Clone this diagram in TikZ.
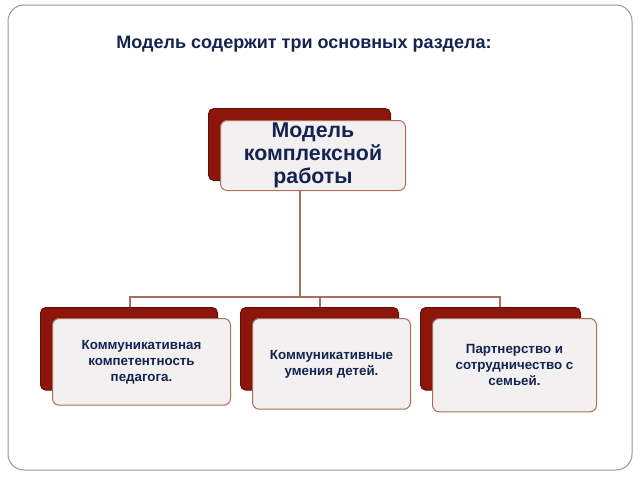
\documentclass[tikz,border=0pt]{standalone}
\usepackage{fontspec}
\setmainfont{Liberation Sans}
\tikzset{every picture/.style={line width=0.75pt}}
\definecolor{backred}{RGB}{140,22,12}
\definecolor{edgebrown}{RGB}{170,110,90}
\definecolor{navy}{RGB}{20,35,80}
\tikzset{
  backbox/.style={draw=backred!70!black,fill=backred,rounded corners=4pt,anchor=north west,inner sep=0pt},
  frontbox/.style={draw=edgebrown,fill={rgb,255:red,242;green,240;blue,240},rounded corners=5pt,anchor=north west,inner sep=0pt,align=center,text=navy,font=\bfseries},
  link/.style={draw=edgebrown,line width=0.9pt}
}
\begin{document}
\begin{tikzpicture}[x=0.75pt,y=0.75pt,yscale=-1,xscale=1]
\useasboundingbox (0,0) rectangle (640,480);
%Slide frame
\draw [color={rgb, 255:red, 150; green, 150; blue, 150 }, rounded corners=12pt] (8,5) rectangle (632,470);
% Title
\node (title) at (304,44) [font=\bfseries\fontsize{13.5}{16}\selectfont, text=navy] {Модель содержит три основных раздела:};

% Top box
\node (tback) at (208,108) [backbox, minimum width=136.5pt, minimum height=54pt] {};
\node (tfront) at (220,120) [frontbox, minimum width=138.75pt, minimum height=52.5pt, font=\bfseries\fontsize{16}{17}\selectfont] {Модель\\комплексной\\работы};

% Bottom boxes
\node (aback) at (40,307) [backbox, minimum width=132.75pt, minimum height=62pt] {};
\node (afront) at (52,318) [frontbox, minimum width=133.5pt, minimum height=65pt, font=\bfseries\fontsize{10}{12}\selectfont] {Коммуникативная\\компетентность\\педагога.};
\node (bback) at (240,307) [backbox, minimum width=118.5pt, minimum height=62pt] {};
\node (bfront) at (252,318) [frontbox, minimum width=118.5pt, minimum height=68pt, font=\bfseries\fontsize{10}{12}\selectfont] {Коммуникативные\\умения детей.};
\node (cback) at (420,307) [backbox, minimum width=120pt, minimum height=62pt] {};
\node (cfront) at (432,318) [frontbox, minimum width=123pt, minimum height=70pt, font=\bfseries\fontsize{10}{12}\selectfont] {Партнерство и\\сотрудничество с\\семьей.};

% Connectors
\coordinate (hub) at (300,297);
\draw [link] (tfront.south -| hub) -- (hub);
\draw [link] (aback.north -| 130,0) |- (hub);
\draw [link] (bback.north -| 320,0) -- (320,297);
\draw [link] (cback.north -| 500,0) |- (hub);
\end{tikzpicture}
\end{document}
